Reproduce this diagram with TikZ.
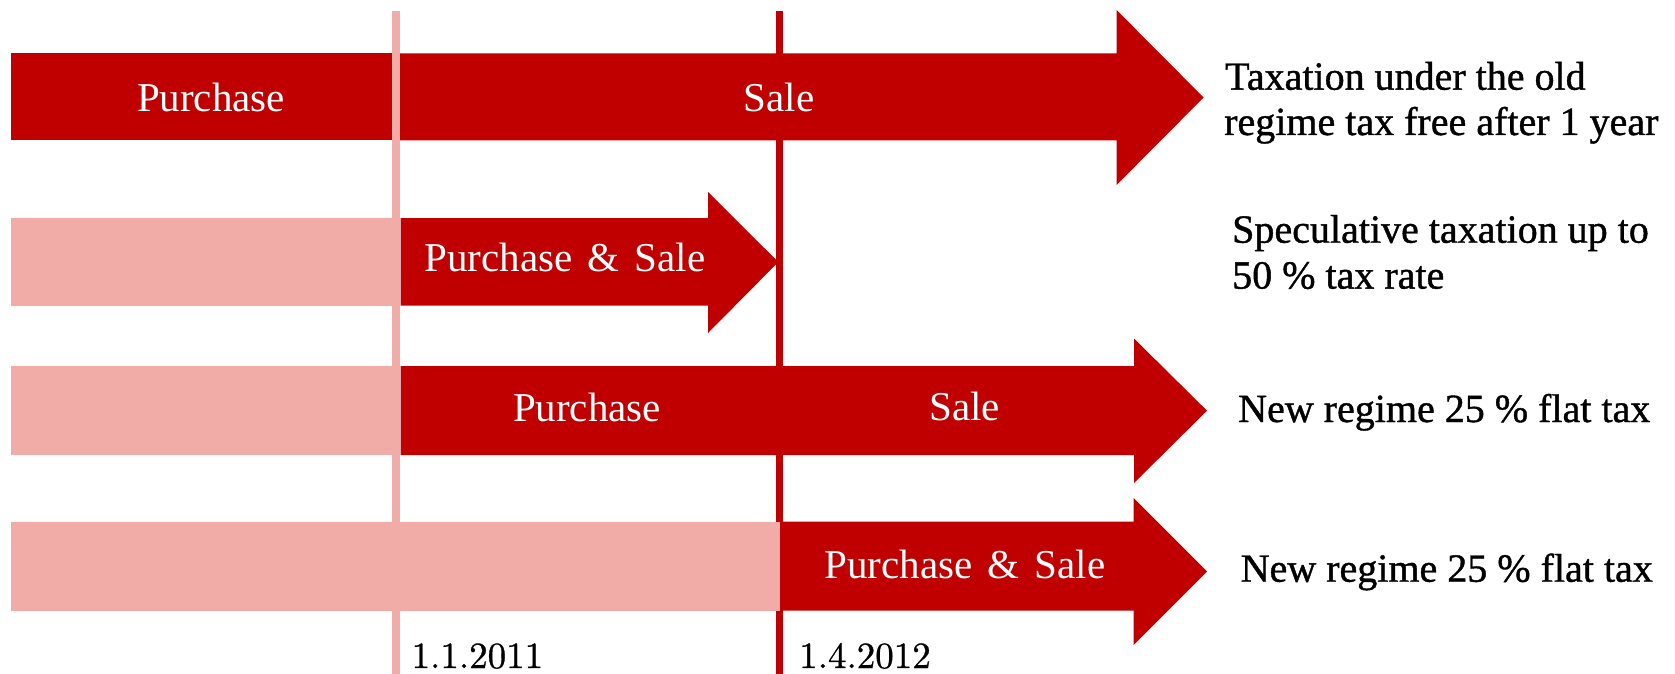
\documentclass[tikz,border=0pt]{standalone}
\usepackage{fontspec}
\setmainfont{Liberation Serif}
\newfontfamily\sidefont[FakeBold=1]{Liberation Serif}
\newfontfamily\datefont[FakeBold=0.8]{lmroman10-regular.otf}
\definecolor{barred}{HTML}{C00000}
\definecolor{barpink}{HTML}{F2ACA8}
\begin{document}
\begin{tikzpicture}[x=1pt,y=-1pt,
  barlabel/.style={text=white,font=\fontsize{41}{45}\selectfont,inner sep=0pt,anchor=base},
  sidelabel/.style={text=black,font=\sidefont\fontsize{40}{45}\selectfont,inner sep=0pt,anchor=base west},
  datelabel/.style={text=black,font=\datefont\fontsize{37}{40}\selectfont,inner sep=0pt,anchor=base west},
  pinkbar/.style={fill=barpink},
  redbar/.style={fill=barred}]
\useasboundingbox (0,0) rectangle (1675,674);
% time lines
\coordinate (l1top) at (396,11);
\coordinate (l1bot) at (396,674);
\coordinate (l2top) at (779,11);
\coordinate (l2bot) at (779,674);
\draw[barpink,line width=8pt] (l1top) -- (l1bot);
\draw[barred,line width=7pt] (l2top) -- (l2bot);
% row 1
\fill[redbar] (10.5,53.4) rectangle (392,140.5);
\fill[redbar] (400,53.4) -- (1116.6,53.4) -- (1116.6,10) -- (1203.6,97.5) -- (1116.6,185) -- (1116.6,140.5) -- (400,140.5) -- cycle;
% row 2
\fill[pinkbar] (10.5,218) rectangle (392,305.5);
\fill[redbar] (400.5,218) -- (708,218) -- (708,192) -- (778.3,262) -- (708,333) -- (708,305.5) -- (400.5,305.5) -- cycle;
% row 3
\fill[pinkbar] (10.5,366) rectangle (392,455);
\fill[redbar] (400.5,366) -- (1134,366) -- (1134,338.5) -- (1207,410.7) -- (1134,483) -- (1134,455) -- (400.5,455) -- cycle;
% row 4
\fill[pinkbar] (10.5,521.7) rectangle (780,610.7);
\fill[redbar] (780,521.7) -- (1133.5,521.7) -- (1133.5,498) -- (1207,571.5) -- (1133.5,645) -- (1133.5,610.7) -- (780,610.7) -- cycle;
% bar texts
\node[barlabel] (p1) at (211,111.5) {Purchase};
\node[barlabel] (s1) at (779,111.5) {Sale};
\node[barlabel] (ps2) at (565,271.5) {Purchase\hspace{0.37em}\&\hspace{0.37em}Sale};
\node[barlabel] (p3) at (587,421.5) {Purchase};
\node[barlabel] (s3) at (964.5,420.5) {Sale};
\node[barlabel] (ps4) at (965,578) {Purchase\hspace{0.37em}\&\hspace{0.37em}Sale};
% side labels
\node[sidelabel] (t1a) at (1225,89.7) {Taxation under the old};
\node[sidelabel] (t1b) at (1224,135) {regime tax free after 1 year};
\node[sidelabel] (t2a) at (1232,242.7) {Speculative taxation up to};
\node[sidelabel] (t2b) at (1232,288.6) {50 \% tax rate};
\node[sidelabel] (t3) at (1238,422) {New regime 25 \% flat tax};
\node[sidelabel] (t4) at (1240.5,581.7) {New regime 25 \% flat tax};
% dates
\node[datelabel] (d1) at (411.4,668) {1.1.2011};
\node[datelabel] (d2) at (799,668) {1.4.2012};
\end{tikzpicture}
\end{document}
